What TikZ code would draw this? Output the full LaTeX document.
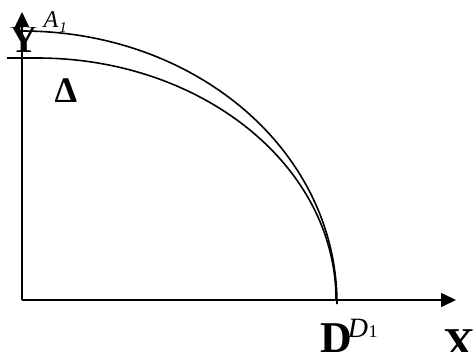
\documentclass[tikz,border=0pt]{standalone}
\usepackage{fontspec}
\setmainfont{Liberation Serif}
\usetikzlibrary{arrows.meta}
\begin{document}
\begin{tikzpicture}[x=1pt,y=-1pt,
  axis/.style={line width=1.6pt,-{Triangle[length=15pt,width=14pt]}},
  curve/.style={line width=1.6pt},
  big/.style={inner sep=0pt,anchor=base,font=\fontsize{44}{44}\selectfont\bfseries},
  lab/.style={inner sep=0pt,anchor=base}]
\useasboundingbox (0,0) rectangle (476,351);
% Y label, its top hidden under the arrowhead
\begin{scope}
  \clip (0,27) rectangle (60,60);
  \node[inner sep=0pt,anchor=base,font=\fontsize{40}{40}\selectfont\bfseries] (ylab) at (24,52) {Y};
\end{scope}
\coordinate (O) at (22,300);
\coordinate (ytip) at (22,12);
\coordinate (xtip) at (456,300);
\draw[axis] (O) -- (ytip);
\draw[axis] (O) -- (xtip);
% outer curve
\coordinate (a1) at (22,31);
\coordinate (d1) at (337,304);
\draw[curve] (a1) .. controls (196,31) and (337,151) .. (d1);
% inner curve
\coordinate (h0) at (7,58);
\coordinate (a0) at (37,58);
\coordinate (d0) at (336,300);
\draw[curve] (h0) -- (a0) .. controls (202,58) and (336,166) .. (d0);
% labels
\node[lab,font=\fontsize{24}{24}\selectfont\itshape] (A) at (51,27) {A};
\node[lab,font=\fontsize{15}{15}\selectfont\itshape] (A1) at (63,32) {1};
\node[lab,font=\fontsize{36}{36}\selectfont\bfseries] (delta) at (66,102) {Δ};
\node[big,anchor=base west] (D) at (320,352) {D};
\node[lab,font=\fontsize{28}{28}\selectfont\itshape] (Dsup) at (358,337) {D};
\node[lab,font=\fontsize{18}{18}\selectfont] (Dsub) at (373,337) {1};
\node[big,anchor=base west] (X) at (443,358) {X};
\end{tikzpicture}
\end{document}
